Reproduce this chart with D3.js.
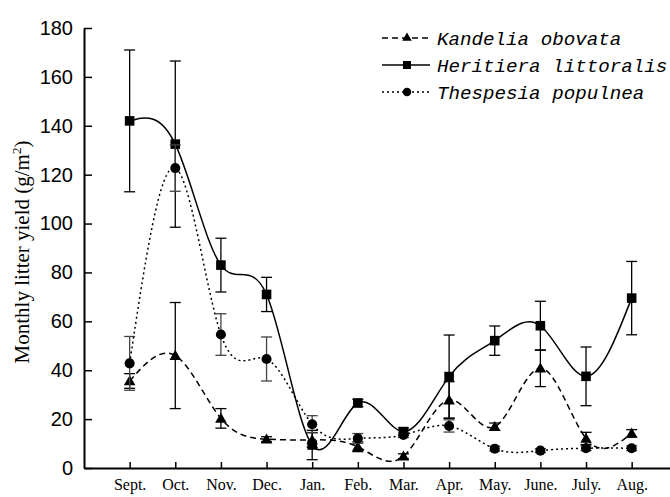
<!DOCTYPE html>
<html>
<head>
<meta charset="utf-8">
<script src="https://cdn.jsdelivr.net/npm/d3@7"></script>
<style>
  body { margin: 0; background: #fff; }
  svg { display: block; }
</style>
</head>
<body>
<div id="chart"></div>
<script>

// month categories
var months = ["Sept.", "Oct.", "Nov.", "Dec.", "Jan.", "Feb.", "Mar.", "Apr.", "May.", "June.", "July.", "Aug."];

// Kandelia obovata
var kandelia    = [35.6, 46, 20.3, 11.8, 11.5, 8.7, 4.8, 27.8, 16.9, 40.8, 12.1, 14.2];
var kandeliaErr = [3, 21.7, 4, 1, 3, 2, 1, 7.5, 1.5, 7.5, 2.5, 1.5];

// Heritiera littoralis
var heritiera    = [142, 132.5, 83, 71, 9.4, 26.6, 14.9, 37.4, 52.1, 58.2, 37.5, 69.5];
var heritieraErr = [29, 34, 11, 7, 6, 1.5, 1.5, 17, 6, 10, 12, 15];

// Thespesia populnea
var thespesia    = [42.8, 122.7, 54.6, 44.6, 17.9, 12.1, 13.5, 17.2, 7.9, 7.1, 8.1, 8.1];
var thespesiaErr = [11, 9.5, 8.5, 9, 3.5, 2, 1, 2.5, 1, 0.8, 1, 1];

var yTicks = [0, 20, 40, 60, 80, 100, 120, 140, 160, 180];

var width = 670, height = 497;

var svg = d3.select("#chart").append("svg")
	.attr("width", width)
	.attr("height", height);

var x = d3.scalePoint()
	.domain(months)
	.range([84, 677.3])
	.padding(1);

var y = d3.scaleLinear()
	.domain([0, 180])
	.range([468, 28]);

// series definitions
var series = [
	{ name: "Kandelia obovata", values: kandelia, err: kandeliaErr, dash: "6,4", symbol: d3.symbolTriangle, size: 58, errColor: "#000" },
	{ name: "Heritiera littoralis", values: heritiera, err: heritieraErr, dash: null, symbol: d3.symbolSquare, size: 92, errColor: "#000" },
	{ name: "Thespesia populnea", values: thespesia, err: thespesiaErr, dash: "2,3", symbol: d3.symbolCircle, size: 80, errColor: "#444" }
];

// axes
var yAxis = d3.axisLeft(y)
	.tickValues(yTicks)
	.tickSizeInner(-8)
	.tickSizeOuter(0)
	.tickPadding(11);

var gy = svg.append("g")
	.attr("transform", "translate(84,0)")
	.call(yAxis);
gy.select(".domain").attr("stroke-width", 2);
gy.selectAll(".tick line").attr("stroke-width", 1.5);
gy.selectAll("text")
	.attr("font-family", "'Liberation Sans', Arial, sans-serif")
	.attr("font-size", "20px")
	.attr("fill", "#000");

var xAxis = d3.axisBottom(x)
	.tickSizeInner(-6)
	.tickSizeOuter(0)
	.tickPadding(11);

var gx = svg.append("g")
	.attr("transform", "translate(0,468)")
	.call(xAxis);
gx.select(".domain").attr("stroke-width", 2);
gx.selectAll(".tick line").attr("stroke-width", 1.5);
gx.selectAll("text")
	.attr("y", 22)
	.attr("dy", 0)
	.attr("font-family", "'Liberation Serif', 'Times New Roman', serif")
	.attr("font-size", "16px")
	.attr("fill", "#000");

// y label
var ylab = svg.append("text")
	.attr("transform", "translate(29,252) rotate(-90)")
	.attr("text-anchor", "middle")
	.attr("font-family", "'Liberation Serif', 'Times New Roman', serif")
	.attr("font-size", "21px")
	.attr("fill", "#000");
ylab.append("tspan").text("Monthly litter yield (g/m");
ylab.append("tspan").attr("font-size", "13px").attr("dy", -8).text("2");
ylab.append("tspan").attr("dy", 8).text(")");

var line = d3.line()
	.x(function(d, i) { return x(months[i]); })
	.y(function(d) { return y(d); })
	.curve(d3.curveNatural);

series.forEach(function(s) {
	var g = svg.append("g");

	// error bars
	var eb = g.selectAll("g.err")
		.data(s.values)
		.enter().append("g")
		.attr("stroke", s.errColor)
		.attr("stroke-width", 1.3);
	eb.append("line")
		.attr("x1", function(d, i) { return x(months[i]); })
		.attr("x2", function(d, i) { return x(months[i]); })
		.attr("y1", function(d, i) { return y(d - s.err[i]); })
		.attr("y2", function(d, i) { return y(d + s.err[i]); });
	eb.append("line")
		.attr("x1", function(d, i) { return x(months[i]) - 5.5; })
		.attr("x2", function(d, i) { return x(months[i]) + 5.5; })
		.attr("y1", function(d, i) { return y(d - s.err[i]); })
		.attr("y2", function(d, i) { return y(d - s.err[i]); });
	eb.append("line")
		.attr("x1", function(d, i) { return x(months[i]) - 5.5; })
		.attr("x2", function(d, i) { return x(months[i]) + 5.5; })
		.attr("y1", function(d, i) { return y(d + s.err[i]); })
		.attr("y2", function(d, i) { return y(d + s.err[i]); });

	// curve
	g.append("path")
		.datum(s.values)
		.attr("d", line)
		.attr("fill", "none")
		.attr("stroke", "#000")
		.attr("stroke-width", 1.5)
		.attr("stroke-dasharray", s.dash);

	// markers
	g.selectAll("path.mark")
		.data(s.values)
		.enter().append("path")
		.attr("class", "mark")
		.attr("d", d3.symbol().type(s.symbol).size(s.size))
		.attr("transform", function(d, i) {
			var dy = s.symbol === d3.symbolTriangle ? 1 : 0;
			return "translate(" + x(months[i]) + "," + (y(d) + dy) + ")";
		})
		.attr("fill", "#000");
});

// legend
var legend = svg.append("g");
series.forEach(function(s, i) {
	var ly = 38 + i * 27;
	legend.append("line")
		.attr("x1", 382).attr("x2", 430)
		.attr("y1", ly).attr("y2", ly)
		.attr("stroke", "#000")
		.attr("stroke-width", 1.5)
		.attr("stroke-dasharray", s.dash);
	legend.append("path")
		.attr("d", d3.symbol().type(s.symbol).size(s.size * 0.7))
		.attr("transform", "translate(407," + ly + ")")
		.attr("fill", "#000");
	legend.append("text")
		.attr("x", 437)
		.attr("y", ly)
		.attr("dy", "0.35em")
		.attr("font-family", "'Liberation Mono', 'DejaVu Sans Mono', monospace")
		.attr("font-style", "italic")
		.attr("font-size", "19.2px")
		.attr("fill", "#000")
		.text(s.name);
});

</script>
</body>
</html>
